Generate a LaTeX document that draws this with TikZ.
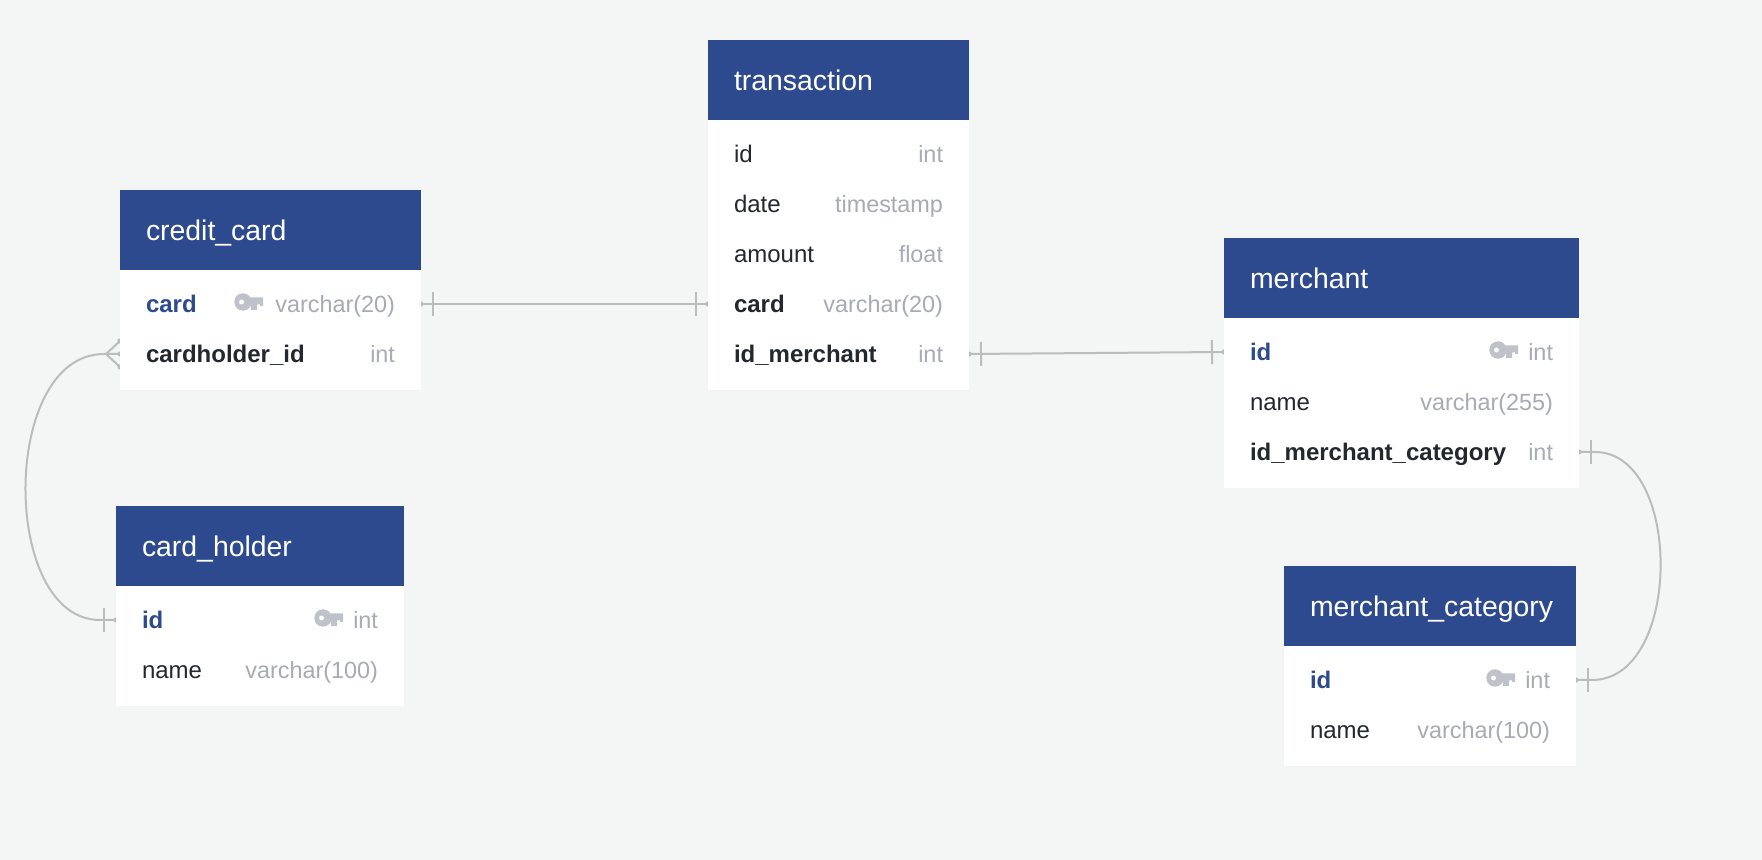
\documentclass[tikz,border=0pt]{standalone}
\usepackage{fontspec}
\setmainfont{Liberation Sans}
\usepackage{tikz}
\usetikzlibrary{decorations.markings,backgrounds}
\definecolor{pagebg}{RGB}{244,246,245}
\definecolor{headblue}{RGB}{46,74,143}
\definecolor{inkdark}{RGB}{35,39,46}
\definecolor{typegray}{RGB}{168,171,178}
\definecolor{keygray}{RGB}{191,194,202}
\definecolor{linegray}{RGB}{187,189,189}

\begin{document}
\begin{tikzpicture}[
    x=0.5pt, y=-0.5pt,
    tablehead/.style={rectangle, fill=headblue, text=white, anchor=north west, outer sep=0pt, inner xsep=13pt, inner ysep=0pt, minimum height=40pt, text width=#1, text height=10.5pt, text depth=0pt, align=left, font=\fontsize{14.2}{16}\selectfont},
    tablebody/.style={rectangle, fill=white, anchor=north west, outer sep=0pt, inner sep=0pt, minimum width=#1, minimum height=60pt},
    tablerow/.style={rectangle, anchor=west, outer sep=0pt, inner xsep=13pt, inner ysep=0pt, minimum height=25pt, text width=#1, text height=9pt, text depth=0.3pt, align=left, text=inkdark, font=\fontsize{12}{14}\selectfont},
    fkrow/.style={tablerow=#1, font=\fontsize{12}{14}\selectfont\bfseries},
    pkrow/.style={tablerow=#1, text=headblue, font=\fontsize{12}{14}\selectfont\bfseries},
    rowtype/.style={rectangle, anchor=east, outer sep=0pt, inner xsep=13pt, inner ysep=0pt, text height=9pt, text depth=0.3pt, text=typegray, font=\fontsize{11.7}{14}\selectfont},
    keyicon/.pic={
        \fill[keygray, even odd rule] (0,0) circle[radius=8.7] (-1.5,0) circle[radius=2.6];
        \fill[keygray] (6,-4.5) -- (20,-4.5) -- (20,4) -- (17,4) -- (17,2.5) -- (14,2.5) -- (14,8) -- (8,8) -- (8,2.5) -- (6,2.5) -- cycle;
    },
    relline/.style={draw=linegray, line width=1pt},
    tickstart/.style={postaction={decorate, decoration={markings,
        mark=at position 0.01pt with {\fill[linegray] (0,0) circle[radius=1.3pt];},
        mark=at position 6pt with {\draw[linegray, line width=1pt] (0,-6pt) -- (0,6pt);}}}},
    tickend/.style={postaction={decorate, decoration={markings,
        mark=at position -0.01pt with {\fill[linegray] (0,0) circle[radius=1.3pt];},
        mark=at position -6pt with {\draw[linegray, line width=1pt] (0,-6pt) -- (0,6pt);}}}},
    footstart/.style={postaction={decorate, decoration={markings,
        mark=at position 7pt with {
            \draw[linegray, line width=1pt] (-7pt,6.5pt) -- (0,0) -- (-7pt,-6.5pt);
            \fill[linegray] (-7pt,6.5pt) circle[radius=1.3pt] (-7pt,0) circle[radius=1.3pt] (-7pt,-6.5pt) circle[radius=1.3pt];}}}}
]
    \useasboundingbox (0,0) rectangle (1762,860);

    \node[tablehead=124.5pt] (creditHead) at (120,190) {credit\_card};
    \node[tablebody=150.5pt] (creditBody) at (creditHead.south west) {};
    \node[pkrow=124.5pt] (creditCard) at (120,304) {card};
    \node[rowtype] (creditCardType) at (creditCard.east) {varchar(20)};
    \pic at (243,302) {keyicon};
    \node[fkrow=124.5pt] (creditHolder) at (120,354) {cardholder\_id};
    \node[rowtype] (creditHolderType) at (creditHolder.east) {int};

    \node[tablehead=118pt] (holderHead) at (116,506) {card\_holder};
    \node[tablebody=144pt] (holderBody) at (holderHead.south west) {};
    \node[pkrow=118pt] (holderId) at (116,620) {id};
    \node[rowtype] (holderIdType) at (holderId.east) {int};
    \pic at (323,618) {keyicon};
    \node[tablerow=118pt] (holderName) at (116,670) {name};
    \node[rowtype] (holderNameType) at (holderName.east) {varchar(100)};

    \node[tablehead=104.5pt] (transHead) at (708,40) {transaction};
    \node[tablebody=130.5pt, minimum height=135pt] (transBody) at (transHead.south west) {};
    \node[tablerow=104.5pt] (transId) at (708,154) {id};
    \node[rowtype] (transIdType) at (transId.east) {int};
    \node[tablerow=104.5pt] (transDate) at (708,204) {date};
    \node[rowtype] (transDateType) at (transDate.east) {timestamp};
    \node[tablerow=104.5pt] (transAmount) at (708,254) {amount};
    \node[rowtype] (transAmountType) at (transAmount.east) {float};
    \node[fkrow=104.5pt] (transCard) at (708,304) {card};
    \node[rowtype] (transCardType) at (transCard.east) {varchar(20)};
    \node[fkrow=104.5pt] (transMerchant) at (708,354) {id\_merchant};
    \node[rowtype] (transMerchantType) at (transMerchant.east) {int};

    \node[tablehead=151.5pt] (merchantHead) at (1224,238) {merchant};
    \node[tablebody=177.5pt, minimum height=85pt] (merchantBody) at (merchantHead.south west) {};
    \node[pkrow=151.5pt] (merchantId) at (1224,352) {id};
    \node[rowtype] (merchantIdType) at (merchantId.east) {int};
    \pic at (1498,350) {keyicon};
    \node[tablerow=151.5pt] (merchantName) at (1224,402) {name};
    \node[rowtype] (merchantNameType) at (merchantName.east) {varchar(255)};
    \node[fkrow=151.5pt] (merchantCat) at (1224,452) {id\_merchant\_category};
    \node[rowtype] (merchantCatType) at (merchantCat.east) {int};

    \node[tablehead=120pt] (categoryHead) at (1284,566) {merchant\_category};
    \node[tablebody=146pt] (categoryBody) at (categoryHead.south west) {};
    \node[pkrow=120pt] (categoryId) at (1284,680) {id};
    \node[rowtype] (categoryIdType) at (categoryId.east) {int};
    \pic at (1495,678) {keyicon};
    \node[tablerow=120pt] (categoryName) at (1284,730) {name};
    \node[rowtype] (categoryNameType) at (categoryName.east) {varchar(100)};

    \begin{scope}[on background layer]
        \fill[pagebg] (0,0) rectangle (1762,860);
        \draw[relline, tickstart, tickend] (creditCard.east) -- (transCard.west);
        \draw[relline, tickstart, tickend] (transMerchant.east) -- (merchantId.west);
        \draw[relline, tickstart, tickend] (merchantCat.east) -- ++(16,0) .. controls (1683,452) and (1683,680) .. (1592,680) -- (categoryId.east);
        \draw[relline, footstart, tickend] (creditHolder.west) -- ++(-16,0) .. controls (0,354) and (0,620) .. (100,620) -- (holderId.west);
    \end{scope}
\end{tikzpicture}
\end{document}
